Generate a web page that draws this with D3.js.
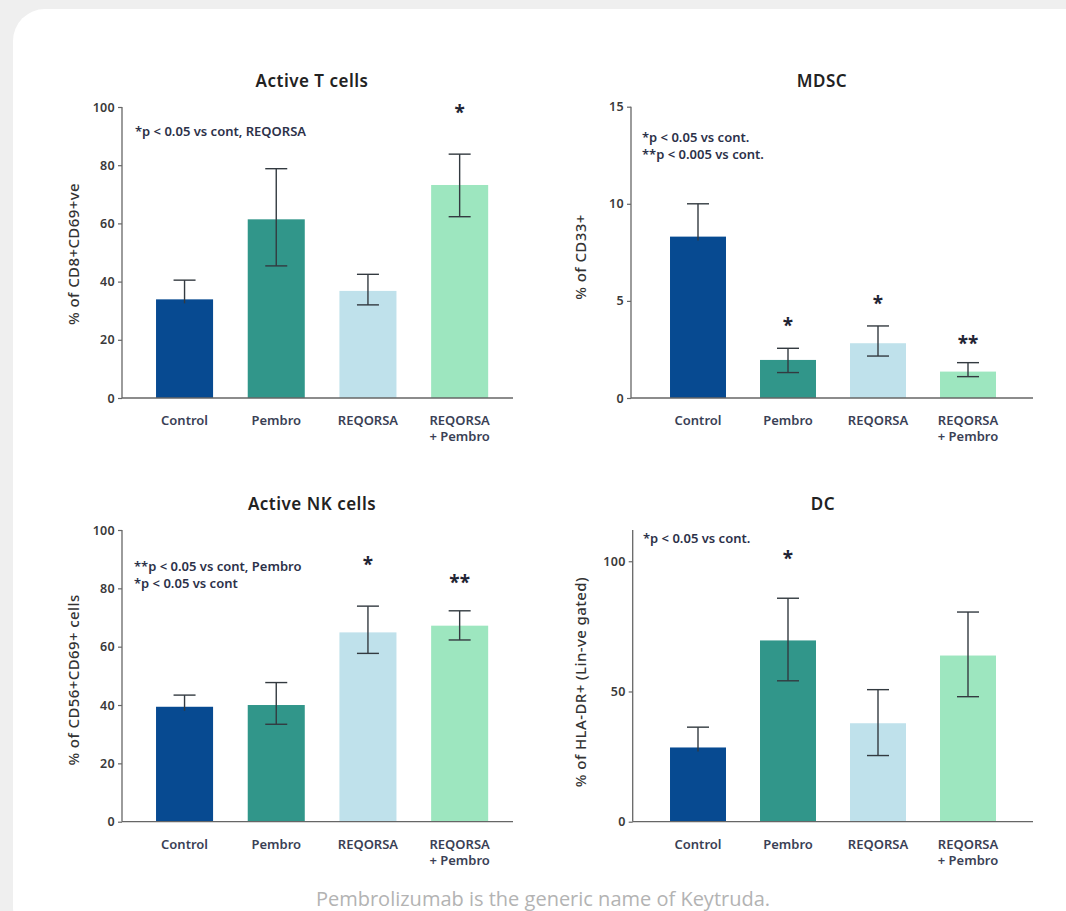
<!DOCTYPE html>
<html>
<head>
<meta charset="utf-8">
<script src="https://cdn.jsdelivr.net/npm/d3@7"></script>
<style>
  html, body { margin: 0; padding: 0; background: #efefef; }
  svg { display: block; }
  text { font-family: "Noto Sans", "Open Sans", sans-serif; }
</style>
</head>
<body>
<svg id="chart" width="1066" height="911"></svg>
<script>
// ---------- data ----------
const categories = ["Control", "Pembro", "REQORSA", "REQORSA\n+ Pembro"];
const barColors = ["#074a91", "#31968a", "#bfe1eb", "#9de6bf"];

// Active T cells
const tcellTitle = "Active T cells";
const tcellYLabel = "% of CD8+CD69+ve";
const tcellValues = [33.9, 61.4, 36.8, 73.2];
const tcellErrLow = [33.9, 45.4, 32.0, 62.3];
const tcellErrHigh = [40.5, 78.8, 42.5, 83.8];
const tcellStars = ["", "", "", "*"];
const tcellStarY = [null, null, null, 99];
const tcellTicks = [0, 20, 40, 60, 80, 100];
const tcellNotes = ["*p < 0.05 vs cont, REQORSA"];

// MDSC
const mdscTitle = "MDSC";
const mdscYLabel = "% of CD33+";
const mdscValues = [8.31, 1.96, 2.82, 1.36];
const mdscErrLow = [8.31, 1.31, 2.16, 1.10];
const mdscErrHigh = [10.0, 2.56, 3.71, 1.82];
const mdscStars = ["", "*", "*", "**"];
const mdscStarY = [null, 3.85, 5.0, 2.95];
const mdscTicks = [0, 5, 10, 15];
const mdscNotes = ["*p < 0.05 vs cont.", "**p < 0.005 vs cont."];

// Active NK cells
const nkTitle = "Active NK cells";
const nkYLabel = "% of CD56+CD69+ cells";
const nkValues = [39.4, 40.0, 64.9, 67.2];
const nkErrLow = [39.4, 33.4, 57.7, 62.3];
const nkErrHigh = [43.4, 47.7, 73.9, 72.3];
const nkStars = ["", "", "*", "**"];
const nkStarY = [null, null, 89, 83];
const nkTicks = [0, 20, 40, 60, 80, 100];
const nkNotes = ["**p < 0.05 vs cont, Pembro", "*p < 0.05 vs cont"];

// DC
const dcTitle = "DC";
const dcYLabel = "% of HLA-DR+ (Lin-ve gated)";
const dcValues = [28.5, 69.6, 37.8, 63.8];
const dcErrLow = [28.5, 54.1, 25.4, 48.0];
const dcErrHigh = [36.3, 85.8, 50.7, 80.5];
const dcStars = ["", "*", "", ""];
const dcStarY = [null, 102, null, null];
const dcTicks = [0, 50, 100];
const dcNotes = ["*p < 0.05 vs cont."];

const caption = "Pembrolizumab is the generic name of Keytruda.";

// ---------- layout (positions only) ----------
const panels = [
  { title: tcellTitle, ylab: tcellYLabel, values: tcellValues, lo: tcellErrLow, hi: tcellErrHigh,
    stars: tcellStars, starY: tcellStarY, ticks: tcellTicks, notes: tcellNotes,
    ymax: 100, axisX: 122, y0: 398, yTop: 107, band: [138.7, 505.5], xEnd: 513,
    titleX: 312, titleY: 81, ylabX: 73, ylabY: 254, noteX: 135, noteY: 132 },
  { title: mdscTitle, ylab: mdscYLabel, values: mdscValues, lo: mdscErrLow, hi: mdscErrHigh,
    stars: mdscStars, starY: mdscStarY, ticks: mdscTicks, notes: mdscNotes,
    ymax: 15, axisX: 631, y0: 398, yTop: 106.7, band: [653, 1013], xEnd: 1033,
    titleX: 822, titleY: 81, ylabX: 580, ylabY: 257, noteX: 642, noteY: 138 },
  { title: nkTitle, ylab: nkYLabel, values: nkValues, lo: nkErrLow, hi: nkErrHigh,
    stars: nkStars, starY: nkStarY, ticks: nkTicks, notes: nkNotes,
    ymax: 100, axisX: 122, y0: 821.7, yTop: 530, band: [138.7, 505.5], xEnd: 513,
    titleX: 312, titleY: 504, ylabX: 73, ylabY: 680, noteX: 134, noteY: 566.5 },
  { title: dcTitle, ylab: dcYLabel, values: dcValues, lo: dcErrLow, hi: dcErrHigh,
    stars: dcStars, starY: dcStarY, ticks: dcTicks, notes: dcNotes,
    ymax: 112, axisX: 632.7, y0: 821.7, yTop: 530, band: [653, 1013], xEnd: 1033,
    titleX: 823, titleY: 504, ylabX: 580, ylabY: 682, noteX: 643, noteY: 539 }
];

const svg = d3.select("#chart");

// card
svg.append("rect")
  .attr("x", 13).attr("y", 9)
  .attr("width", 1085).attr("height", 930)
  .attr("rx", 32).attr("ry", 32)
  .attr("fill", "#ffffff");

const textColor = "#2c3149";
const axisColor = "#666666";

panels.forEach(p => {
  const g = svg.append("g");
  const y = d3.scaleLinear().domain([0, p.ymax]).range([p.y0, p.yTop]);
  const x = d3.scaleBand().domain(categories).range(p.band)
    .paddingInner(0.378).paddingOuter(0.189);

  // y axis
  const yAxis = d3.axisLeft(y).tickValues(p.ticks).tickSize(4).tickPadding(3)
    .tickFormat(d3.format("d"));
  const ya = g.append("g").attr("transform", `translate(${p.axisX},0)`).call(yAxis);
  ya.select(".domain").attr("stroke", axisColor).attr("stroke-width", 1.3)
    .attr("d", `M0,${p.yTop}V${p.y0}`);
  ya.selectAll(".tick line").attr("stroke", axisColor).attr("stroke-width", 1.2);
  ya.selectAll(".tick text").attr("fill", "#3a3a3a")
    .style("font-size", "12.5px").style("font-weight", "600")
    .style("letter-spacing", "0.3px");

  // bars
  g.selectAll("rect.bar").data(p.values).enter().append("rect")
    .attr("class", "bar")
    .attr("x", (d, i) => x(categories[i]))
    .attr("width", x.bandwidth())
    .attr("y", d => y(d))
    .attr("height", d => p.y0 - y(d))
    .attr("fill", (d, i) => barColors[i]);

  // x axis line
  g.append("line")
    .attr("x1", p.axisX).attr("x2", p.xEnd)
    .attr("y1", p.y0).attr("y2", p.y0)
    .attr("stroke", axisColor).attr("stroke-width", 1.3);

  // error bars
  const capW = 22;
  p.values.forEach((v, i) => {
    const cx = x(categories[i]) + x.bandwidth() / 2;
    const eg = g.append("g").attr("stroke", "#333a40").attr("stroke-width", 1.4);
    eg.append("line").attr("x1", cx).attr("x2", cx)
      .attr("y1", y(p.hi[i])).attr("y2", y(p.lo[i]) + (p.lo[i] === v ? 4 : 0));
    eg.append("line").attr("x1", cx - capW / 2).attr("x2", cx + capW / 2)
      .attr("y1", y(p.hi[i])).attr("y2", y(p.hi[i]));
    if (p.lo[i] < v) {
      eg.append("line").attr("x1", cx - capW / 2).attr("x2", cx + capW / 2)
        .attr("y1", y(p.lo[i])).attr("y2", y(p.lo[i]));
    }
    if (p.stars[i]) {
      g.append("text")
        .attr("x", cx).attr("y", y(p.starY[i]) + 9)
        .attr("text-anchor", "middle")
        .attr("fill", "#1f2433")
        .style("font-size", "19px").style("font-weight", "700")
        .text(p.stars[i]);
    }
  });

  // x labels (each line its own text element)
  categories.forEach((c, i) => {
    const cx = x(c) + x.bandwidth() / 2;
    c.split("\n").forEach((ln, k) => {
      g.append("text").attr("text-anchor", "middle")
        .attr("x", cx).attr("y", p.y0 + 27 + k * 16)
        .attr("fill", "#3a3f55")
        .style("font-size", "13px").style("font-weight", "600")
        .text(ln);
    });
  });

  // title
  g.append("text").attr("x", p.titleX).attr("y", p.titleY + 6)
    .attr("text-anchor", "middle").attr("fill", "#222")
    .style("font-size", "17px").style("font-weight", "600")
    .style("letter-spacing", "0.5px")
    .text(p.title);

  // y label
  g.append("text")
    .attr("transform", `translate(${p.ylabX + 6},${p.ylabY}) rotate(-90)`)
    .attr("text-anchor", "middle").attr("fill", "#333")
    .style("font-size", "15px").style("font-weight", "500")
    .style("letter-spacing", "0.4px")
    .text(p.ylab);

  // notes
  p.notes.forEach((n, k) => {
    g.append("text").attr("x", p.noteX).attr("y", p.noteY + 4 + k * 17)
      .attr("fill", textColor)
      .style("font-size", "13px").style("font-weight", "600")
      .text(n);
  });
});

// caption (cut by the bottom edge, as in the reference)
svg.append("text")
  .attr("x", 543).attr("y", 906)
  .attr("text-anchor", "middle")
  .attr("fill", "#b3b3b3")
  .style("font-family", "'Open Sans', sans-serif")
  .style("font-size", "20px").style("font-weight", "400")
  .text(caption);
</script>
</body>
</html>
